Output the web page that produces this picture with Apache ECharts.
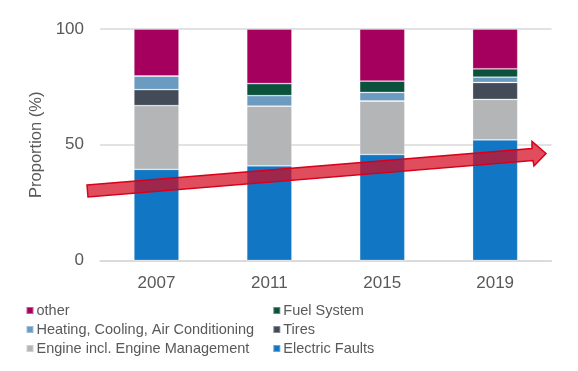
<!DOCTYPE html>
<html>
<head>
<meta charset="utf-8">
<script src="https://cdn.jsdelivr.net/npm/echarts@6/dist/echarts.min.js"></script>
<style>html,body{margin:0;padding:0;background:#fff;}#c{width:578px;height:371px;}</style>
</head>
<body>
<div id="c"></div>
<script>
const years = ['2007', '2011', '2015', '2019'];
const electric = [39.4, 40.9, 45.8, 52.1];
const engine = [27.5, 25.8, 23.1, 17.5];
const tires = [6.9, 0, 0, 7.3];
const hvac = [5.9, 4.5, 3.7, 2.3];
const fuel = [0, 5.2, 4.9, 3.6];
const other = [20.3, 23.6, 22.5, 17.2];
const yTicks = [0, 50, 100];

const FONT = "'Liberation Sans', Arial, sans-serif";
const TXT = '#595959';
const seriesDefs = [
  ['Electric Faults', electric, '#1177c5'],
  ['Engine incl. Engine Management', engine, '#b4b5b7'],
  ['Tires', tires, '#424b57'],
  ['Heating, Cooling, Air Conditioning', hvac, '#6c9bc2'],
  ['Fuel System', fuel, '#0b513b'],
  ['other', other, '#a6005f']
];

const chart = echarts.init(document.getElementById('c'), null, {renderer: 'canvas'});
const legendCommon = {
  orient: 'vertical', icon: 'rect', itemWidth: 7, itemHeight: 7, itemGap: 4,
  top: 298, selectedMode: false,
  textStyle: {fontFamily: FONT, fontSize: 14.5, color: TXT, lineHeight: 15, padding: [0, 0, 0, -2]}
};
chart.setOption({
  animation: false,
  textStyle: {fontFamily: FONT},
  grid: {left: 100, right: 26.4, top: 29, bottom: 110.5},
  legend: [
    Object.assign({}, legendCommon, {left: 20.5, data: ['other', 'Heating, Cooling, Air Conditioning', 'Engine incl. Engine Management']}),
    Object.assign({}, legendCommon, {left: 267.3, data: ['Fuel System', 'Tires', 'Electric Faults']})
  ],
  xAxis: {
    type: 'category', data: years,
    axisLine: {lineStyle: {color: '#d9d9d9', width: 1.5}},
    axisTick: {show: false},
    axisLabel: {fontFamily: FONT, fontSize: 17, color: TXT, margin: 14.5}
  },
  yAxis: {
    type: 'value', min: yTicks[0], max: yTicks[yTicks.length - 1], interval: yTicks[1] - yTicks[0],
    name: 'Proportion (%)', nameLocation: 'middle', nameGap: 54, nameRotate: 90,
    nameTextStyle: {fontFamily: FONT, fontSize: 16.5, color: TXT},
    axisLine: {show: false}, axisTick: {show: false},
    axisLabel: {fontFamily: FONT, fontSize: 17, color: TXT, margin: 16},
    splitLine: {lineStyle: {color: '#d9d9d9', width: 1.5}}
  },
  series: seriesDefs.map(([name, data, color]) => ({
    name, type: 'bar', stack: 'all', data, barWidth: '40%',
    itemStyle: {color, borderColor: 'rgba(255,255,255,0.35)', borderWidth: 0.8}
  })),
  graphic: [{
    type: 'polygon', z: 100,
    shape: {points: [[87, 185], [532, 148.5], [532, 141.5], [546, 153.5], [534, 166], [533, 160.5], [88, 197]]},
    style: {fill: 'rgba(212,8,30,0.72)', stroke: '#d9001b', lineWidth: 1.5, lineJoin: 'miter'}
  }]
});
</script>
</body>
</html>
